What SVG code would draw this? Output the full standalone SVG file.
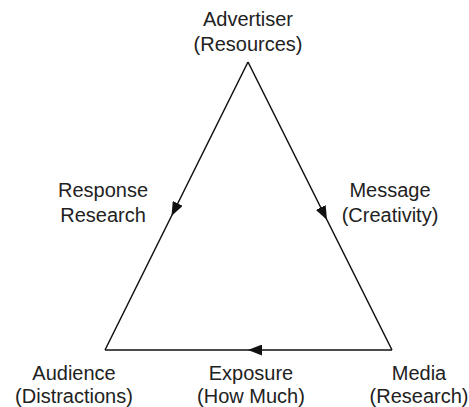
<svg xmlns="http://www.w3.org/2000/svg" width="469" height="407" viewBox="0 0 469 407">
<style>
text{font-family:"Liberation Sans",Arial,sans-serif;font-size:20px;fill:#222;text-anchor:middle}
.edge{fill:none;stroke:#111;stroke-width:1.5;marker-mid:url(#arr)}
</style>
<defs>
<marker id="arr" viewBox="0 0 14 11" refX="14" refY="5.5" markerUnits="userSpaceOnUse" markerWidth="14" markerHeight="11" orient="auto">
<path d="M0,0 L14,5.5 L0,11 z" fill="#111"/>
</marker>
</defs>
<rect width="469" height="407" fill="#fff"/>
<g id="connectors">
<path class="edge" d="M248,62 L171.5,216 L105,350"/>
<path class="edge" d="M248,62 L327,220 L392,350"/>
<path class="edge" d="M392,350 L248,350 L105,350"/>
</g>
<g id="advertiser"><text x="248" y="26">Advertiser</text><text x="248" y="51">(Resources)</text></g>
<g id="response"><text x="103" y="197">Response</text><text x="103" y="222">Research</text></g>
<g id="message"><text x="390" y="197">Message</text><text x="390" y="222">(Creativity)</text></g>
<g id="audience"><text x="74" y="380">Audience</text><text x="74" y="403">(Distractions)</text></g>
<g id="exposure"><text x="251" y="380">Exposure</text><text x="251" y="403">(How Much)</text></g>
<g id="media"><text x="419" y="380">Media</text><text x="419" y="403">(Research)</text></g>
</svg>
